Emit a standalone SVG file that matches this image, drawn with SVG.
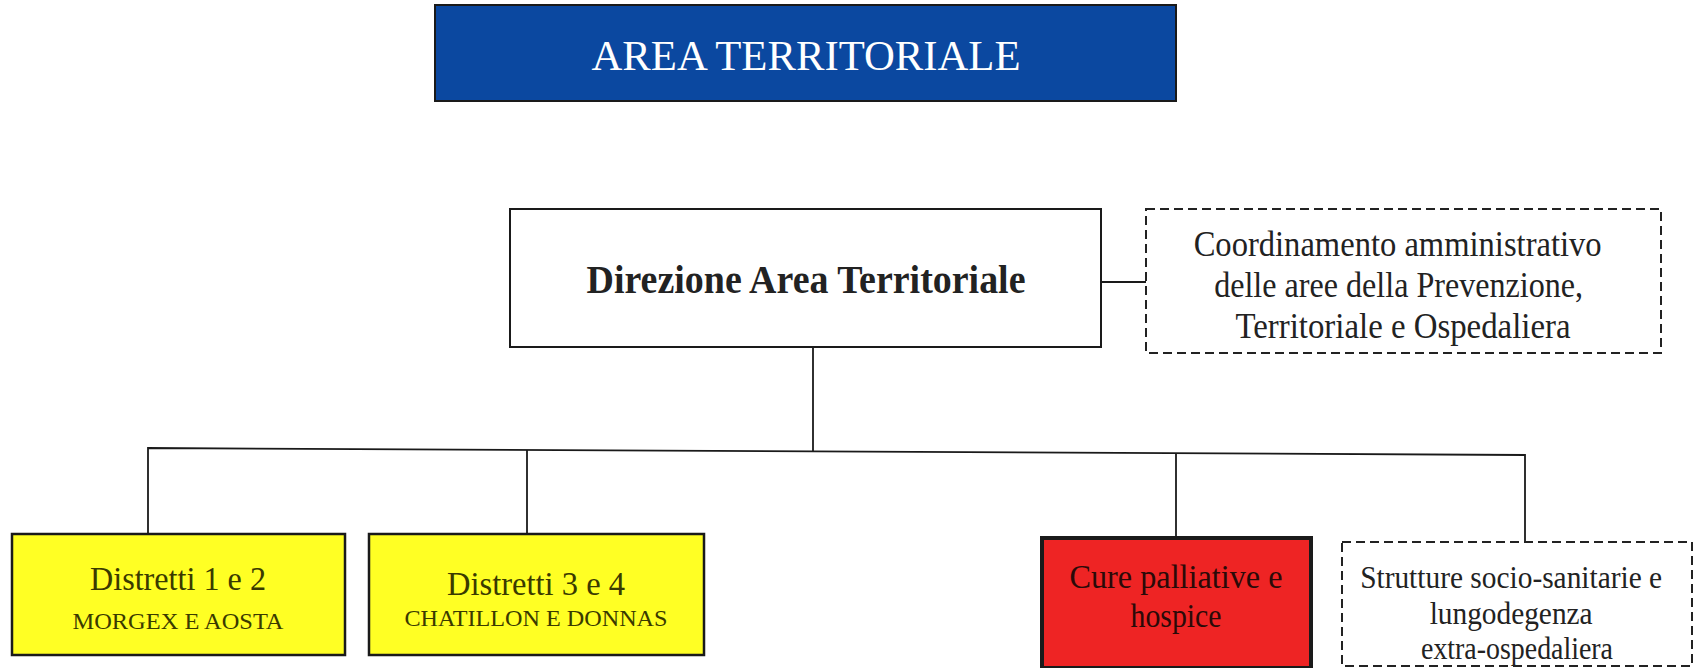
<svg xmlns="http://www.w3.org/2000/svg" width="1696" height="668" viewBox="0 0 1696 668">
<style>
.t{font-family:"Liberation Serif","Times New Roman",serif;text-anchor:middle}
.box{fill:#fff;stroke:#1a1a1a;stroke-width:2}
.dash{fill:#fff;stroke:#222;stroke-width:2;stroke-dasharray:9 5}
.yel{fill:#ffff24;stroke:#1a1a1a;stroke-width:2.5}
.con{fill:none;stroke:#1a1a1a;stroke-width:1.8}
</style>
<rect width="1696" height="668" fill="#fff"/>
<g id="title">
<rect x="435" y="5" width="741" height="96" fill="#0b48a0" stroke="#1a1a1a" stroke-width="2"/>
<text class="t" x="806" y="70" font-size="43" fill="#fff" textLength="429" lengthAdjust="spacingAndGlyphs">AREA TERRITORIALE</text>
</g>
<g id="connectors">
<line class="con" x1="1101" y1="282" x2="1146" y2="282"/>
<line class="con" x1="813" y1="347" x2="813" y2="451"/>
<path class="con" d="M148 534 L148 448 L1525 455 L1525 542"/>
<line class="con" x1="527" y1="450" x2="527" y2="534"/>
<line class="con" x1="1176" y1="453" x2="1176" y2="538"/>
</g>
<g id="direzione">
<rect class="box" x="510" y="209" width="591" height="138"/>
<text class="t" x="806" y="293" font-size="40" font-weight="bold" fill="#222" textLength="439" lengthAdjust="spacingAndGlyphs">Direzione Area Territoriale</text>
</g>
<g id="coordinamento">
<rect class="dash" x="1146" y="209" width="515" height="144"/>
<text class="t" font-size="35" fill="#222">
<tspan x="1402" y="256" textLength="408" lengthAdjust="spacingAndGlyphs">Coordinamento amministrativo</tspan>
<tspan x="1403" y="297" textLength="369" lengthAdjust="spacingAndGlyphs">delle aree della Prevenzione,</tspan>
<tspan x="1403" y="338" textLength="335" lengthAdjust="spacingAndGlyphs">Territoriale e Ospedaliera</tspan>
</text>
</g>
<g id="distretti12">
<rect class="yel" x="12" y="534" width="333" height="121"/>
<text class="t" x="178" y="590" font-size="34" fill="#3a3a00" textLength="176" lengthAdjust="spacingAndGlyphs">Distretti 1 e 2</text>
<text class="t" x="178" y="629" font-size="24" fill="#3a3a00" textLength="211" lengthAdjust="spacingAndGlyphs">MORGEX E AOSTA</text>
</g>
<g id="distretti34">
<rect class="yel" x="369" y="534" width="335" height="121"/>
<text class="t" x="536" y="595" font-size="34" fill="#3a3a00" textLength="178" lengthAdjust="spacingAndGlyphs">Distretti 3 e 4</text>
<text class="t" x="536" y="626" font-size="24" fill="#3a3a00" textLength="263" lengthAdjust="spacingAndGlyphs">CHATILLON E DONNAS</text>
</g>
<g id="cure">
<rect x="1042" y="538" width="269" height="130" fill="#ee2424" stroke="#1a1a1a" stroke-width="4"/>
<text class="t" x="1176" y="588" font-size="33" fill="#2a0a08" textLength="213" lengthAdjust="spacingAndGlyphs">Cure palliative e</text>
<text class="t" x="1176" y="627" font-size="33" fill="#2a0a08" textLength="91" lengthAdjust="spacingAndGlyphs">hospice</text>
</g>
<g id="strutture">
<rect class="dash" x="1342" y="542" width="350" height="124"/>
<text class="t" font-size="31" fill="#222">
<tspan x="1515" y="588" textLength="302" lengthAdjust="spacingAndGlyphs">Strutture socio-sanitarie e</tspan>
<tspan x="1515" y="624" textLength="163" lengthAdjust="spacingAndGlyphs">lungodegenza</tspan>
<tspan x="1517" y="659" textLength="192" lengthAdjust="spacingAndGlyphs">extra-ospedaliera</tspan>
</text>
</g>
</svg>
